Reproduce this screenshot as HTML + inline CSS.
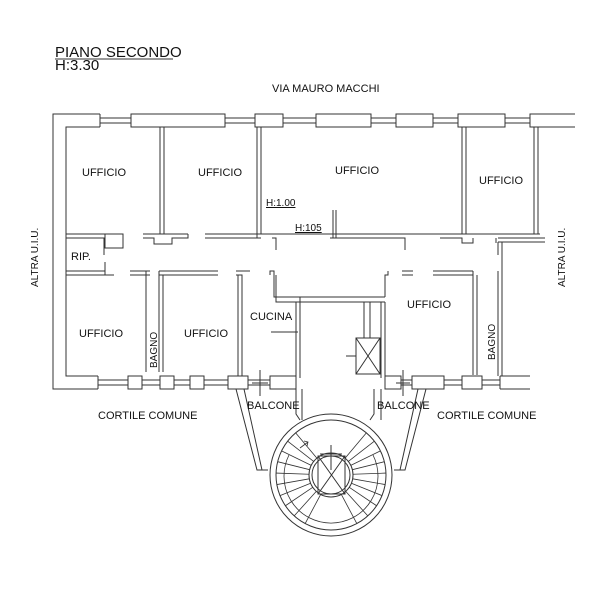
<!DOCTYPE html>
<html><head><meta charset="utf-8"><style>
html,body{margin:0;padding:0;background:#fff}
svg{display:block}
text{font-family:"Liberation Sans",sans-serif;fill:#111}
</style></head><body>
<svg width="607" height="600" viewBox="0 0 607 600" xmlns="http://www.w3.org/2000/svg">
<g fill="none" stroke="#333" stroke-width="1">
<path d="M100 114 H53 V389 H98"/>
<path d="M100 127 H66 V376 H98"/>
<rect x="131" y="114" width="94" height="13" fill="#fff"/>
<rect x="255" y="114" width="28" height="13" fill="#fff"/>
<rect x="316" y="114" width="55" height="13" fill="#fff"/>
<rect x="396" y="114" width="37" height="13" fill="#fff"/>
<rect x="458" y="114" width="47" height="13" fill="#fff"/>
<path d="M575 114 H530 V127 H575"/>
<path d="M100 114 V127"/>
<path d="M100 118 H131 M100 123 H131 M225 118 H255 M225 123 H255 M283 118 H316 M283 123 H316 M371 118 H396 M371 123 H396 M433 118 H458 M433 123 H458 M505 118 H530 M505 123 H530"/>
<path d="M160 127 V234 M164 127 V234 M257 127 V234 M261 127 V234 M462 127 V234 M466 127 V234 M534 127 V234 M538 127 V234"/>
<path d="M66 234 H105 M66 238 H104 V255 M105 234 V248 H123 V234 H105"/>
<path d="M143 234 H188 M143 238 H154 V244 H172 V238 H188 V234"/>
<path d="M205 234 H261 M205 238 H261 M257 234 H540 M257 238 V234"/>
<path d="M272 238 H276 V250 M330 238 H405 V250 M336 238 V210 M333 238 V210"/>
<path d="M330 234 H422 M440 238 H462 V243 H473 V238 M438 234 H464"/>
<path d="M498 238 H545 M498 242 H545 M496 243 V238"/>
<path d="M66 271 H105 V262 M66 275 H114 M105 275 V271"/>
<path d="M130 271 H146 V372 M150 271 H146 M130 275 H150"/>
<path d="M159 271 H218 M159 275 H218 M159 271 V372 M163 275 V372"/>
<path d="M236 271 H250 M236 275 H242 V376 M238 275 V376"/>
<path d="M270 275 V271 H274 V297 H300 V378 M276 275 V302 H296 V378"/>
<path d="M296 302 H300 M300 297 H385 M300 302 H385"/>
<path d="M385 297 V275 H388 V271 M381 302 V378 M385 302 V378"/>
<path d="M402 271 H413 M402 275 H413 M433 271 H473 M433 275 H473 M473 271 V375 M477 275 V375"/>
<path d="M498 271 V376 M502 242 V376 M498 242 V255"/>
<path d="M271 332 H298"/>
<path d="M364 302 V338 M370 302 V338"/>
<rect x="356" y="338" width="24" height="36"/>
<path d="M356 338 L380 374 M380 338 L356 374 M346 356 H356"/>
<rect x="128" y="376" width="14" height="13" fill="#fff"/>
<rect x="160" y="376" width="14" height="13" fill="#fff"/>
<rect x="190" y="376" width="14" height="13" fill="#fff"/>
<rect x="228" y="376" width="20" height="13" fill="#fff"/>
<rect x="270" y="376" width="26" height="13" fill="#fff"/>
<rect x="385" y="376" width="16" height="13" fill="#fff"/>
<rect x="412" y="376" width="32" height="13" fill="#fff"/>
<rect x="462" y="376" width="20" height="13" fill="#fff"/>
<path d="M500 376 H530 M500 389 H530 M500 376 V389"/>
<path d="M98 380 H128 M98 385 H128 M142 380 H160 M142 385 H160 M174 380 H190 M174 385 H190 M204 380 H228 M204 385 H228 M248 380 H270 M248 385 H270 M401 380 H412 M401 385 H412 M444 380 H462 M444 385 H462 M482 380 H500 M482 385 H500"/>
<path d="M98 376 V389 M260 370 V396 M252 383 H268 M403 370 V396 M396 383 H410"/>
<path d="M236 389 L257 470 H268 M244 389 L262 470"/>
<path d="M426 389 L405 470 H394 M418 389 L400 470"/>
<path d="M296 389 V414 L300 420 M302 389 V420 M381 389 V420 M374 389 V414 L370 420"/>
<circle cx="331" cy="475" r="61"/>
<circle cx="331" cy="475" r="55"/>
<circle cx="331" cy="475" r="22"/>
<circle cx="331" cy="475" r="19"/>
<path d="M289 455 A47 47 0 1 0 373 455" stroke-width="0.8"/>
<rect x="318" y="456" width="27" height="38"/>
<path d="M318 456 L345 494 M345 456 L318 494 M331 445 V470 M320 454 H342"/>
<g stroke-width="0.8">
<line x1="353" y1="475" x2="386" y2="475" transform="rotate(-50 331 475)"/>
<line x1="353" y1="475" x2="386" y2="475" transform="rotate(-38 331 475)"/>
<line x1="353" y1="475" x2="386" y2="475" transform="rotate(-26 331 475)"/>
<line x1="353" y1="475" x2="386" y2="475" transform="rotate(-14 331 475)"/>
<line x1="353" y1="475" x2="386" y2="475" transform="rotate(-2 331 475)"/>
<line x1="353" y1="475" x2="386" y2="475" transform="rotate(10 331 475)"/>
<line x1="353" y1="475" x2="386" y2="475" transform="rotate(22 331 475)"/>
<line x1="353" y1="475" x2="386" y2="475" transform="rotate(34 331 475)"/>
<line x1="353" y1="475" x2="386" y2="475" transform="rotate(48 331 475)"/>
<line x1="353" y1="475" x2="386" y2="475" transform="rotate(62 331 475)"/>
<line x1="353" y1="475" x2="386" y2="475" transform="rotate(118 331 475)"/>
<line x1="353" y1="475" x2="386" y2="475" transform="rotate(132 331 475)"/>
<line x1="353" y1="475" x2="386" y2="475" transform="rotate(146 331 475)"/>
<line x1="353" y1="475" x2="386" y2="475" transform="rotate(158 331 475)"/>
<line x1="353" y1="475" x2="386" y2="475" transform="rotate(170 331 475)"/>
<line x1="353" y1="475" x2="386" y2="475" transform="rotate(182 331 475)"/>
<line x1="353" y1="475" x2="386" y2="475" transform="rotate(194 331 475)"/>
<line x1="353" y1="475" x2="386" y2="475" transform="rotate(206 331 475)"/>
<line x1="353" y1="475" x2="386" y2="475" transform="rotate(218 331 475)"/>
<line x1="353" y1="475" x2="386" y2="475" transform="rotate(230 331 475)"/>
</g>
</g>
<path d="M300 448 L308 442 M304 441 L308 442 L307 446" stroke="#333" fill="none" stroke-width="0.8"/>
<text x="55" y="57" font-size="15">PIANO SECONDO</text>
<line x1="55" y1="59" x2="173" y2="59" stroke="#333"/>
<text x="55" y="70" font-size="15">H:3.30</text>
<text x="272" y="92" font-size="11">VIA MAURO MACCHI</text>
<text x="82" y="176" font-size="11">UFFICIO</text>
<text x="198" y="176" font-size="11">UFFICIO</text>
<text x="335" y="174" font-size="11">UFFICIO</text>
<text x="479" y="184" font-size="11">UFFICIO</text>
<text x="266" y="206" font-size="10" text-decoration="underline">H:1.00</text>
<text x="295" y="231" font-size="10" text-decoration="underline">H:105</text>
<text x="71" y="260" font-size="11">RIP.</text>
<text x="79" y="337" font-size="11">UFFICIO</text>
<text x="184" y="337" font-size="11">UFFICIO</text>
<text x="250" y="320" font-size="11">CUCINA</text>
<text x="407" y="308" font-size="11">UFFICIO</text>
<text x="98" y="419" font-size="11">CORTILE COMUNE</text>
<text x="437" y="419" font-size="11">CORTILE COMUNE</text>
<text x="247" y="409" font-size="11">BALCONE</text>
<text x="377" y="409" font-size="11">BALCONE</text>
<text font-size="10" transform="translate(157,368) rotate(-90)">BAGNO</text>
<text font-size="10" transform="translate(495,360) rotate(-90)">BAGNO</text>
<text font-size="10" transform="translate(38,287) rotate(-90)">ALTRA U.I.U.</text>
<text font-size="10" transform="translate(565,287) rotate(-90)">ALTRA U.I.U.</text>
</svg>
</body></html>
